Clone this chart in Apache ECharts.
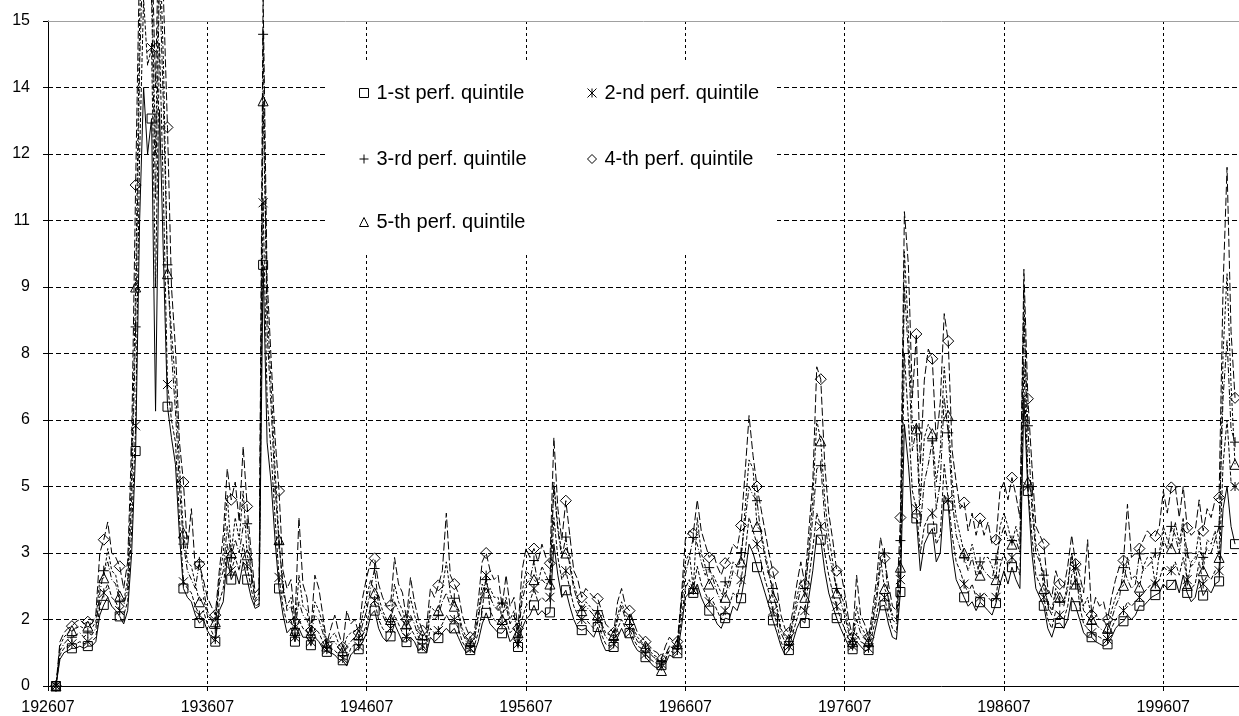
<!DOCTYPE html>
<html>
<head>
<meta charset="utf-8">
<script src="https://cdn.jsdelivr.net/npm/echarts@6/dist/echarts.min.js"></script>
<style>
html,body{margin:0;padding:0;background:#fff;}
#chart{width:1239px;height:716px;}
</style>
</head>
<body>
<div id="chart"></div>
<script>
// Tick labels
const xTickLabels = ['192607','193607','194607','195607','196607','197607','198607','199607'];
const yTickLabels = ['0','2','3','5','6','8','9','11','12','14','15'];
const seriesNames = ['1-st perf. quintile','2-nd perf. quintile','3-rd perf. quintile','4-th perf. quintile','5-th perf. quintile'];

// Sampling: quarterly values (Jan, Apr, Jul, Oct) from 1927-01 to 2001-01.
// Month index counted from 1926-07 (= 0).
const firstMonth = 6;
const monthStep = 3;

const q1 = [
0,0.6,0.75,0.8, 0.85,0.85,0.9,0.85, 0.9,0.9,1.0,1.6, 1.83,2.0,1.8,1.7, 1.57,1.4,1.7,3.0,
5.3,10.5,13.5,12.0, 12.8,6.2,13.0,9.6, 6.3,5.6,5.0,3.4, 2.2,2.0,1.9,1.6, 1.42,1.5,1.25,1.1,
1.0,1.7,1.9,2.9, 2.4,2.6,2.3,2.8, 2.4,2.0,1.75,1.8, 9.5,5.5,4.6,3.3, 2.2,1.6,1.2,1.3,
1.0,1.3,1.1,1.1, 0.92,1.1,1.0,0.85, 0.77,0.75,0.7,0.6, 0.58,0.45,0.7,0.8, 0.83,1.0,1.2,1.6,
1.7,1.3,1.1,1.0, 1.12,1.4,1.2,1.0, 0.99,1.1,1.0,0.8, 0.85,0.75,1.1,1.0, 1.08,1.2,1.3,1.2,
1.3,1.1,0.9,0.75, 0.81,0.75,1.0,1.4, 1.65,1.4,1.3,1.2, 1.19,1.3,1.0,1.1, 0.88,1.3,1.5,1.6,
1.82,1.6,1.7,1.6, 1.66,3.2,2.5,2.0, 2.16,1.8,1.5,1.3, 1.26,1.3,1.2,1.1, 1.33,1.0,0.8,0.8,
0.88,1.1,1.3,1.1, 1.19,0.95,0.8,0.75, 0.65,0.55,0.45,0.4, 0.47,0.5,0.7,0.65, 0.74,1.3,2.0,2.1,
2.1,2.3,2.0,1.8, 1.7,1.6,1.4,1.3, 1.53,1.5,1.8,1.7, 1.98,2.5,3.2,3.0, 2.68,2.4,2.1,1.8,
1.48,1.2,0.9,0.7, 0.81,1.0,1.3,1.5, 1.42,2.0,2.6,3.4, 3.3,2.6,2.1,1.8, 1.53,1.3,1.1,0.9,
0.83,1.0,0.9,0.8, 0.81,1.0,1.4,1.8, 1.82,1.4,1.1,1.05, 2.12,5.9,5.0,3.8, 3.78,2.6,3.2,3.4,
3.55,2.8,3.0,4.3, 4.07,3.0,2.4,2.2, 2.0,1.8,1.9,1.7, 1.89,1.8,1.7,1.6, 1.87,2.3,2.6,2.3,
2.68,2.4,2.2,6.5, 4.4,3.0,2.2,2.0, 1.81,1.3,1.1,1.4, 1.42,1.3,1.5,2.0, 1.8,1.5,1.2,1.1,
1.1,1.0,0.95,0.9, 0.94,1.1,1.3,1.4, 1.46,1.6,1.5,1.6, 1.81,1.8,1.9,2.0, 2.05,2.1,2.3,2.2,
2.28,2.4,2.1,2.5, 2.1,1.9,2.0,2.4, 2.04,2.2,2.1,2.3, 2.36,4.0,4.5,3.6, 3.2
];
const q2 = [
0,0.7,0.85,0.9, 0.95,0.95,1.0,0.95, 1.0,1.0,1.1,1.8, 2.1,2.3,2.0,1.9, 1.7,1.6,1.9,3.5,
5.87,12.0,15.5,14.0, 14.4,9.0,14.5,11.0, 6.8,6.0,5.5,3.8, 2.35,2.2,2.1,1.8, 1.6,1.7,1.4,1.25,
1.05,1.9,2.2,3.2, 2.6,2.9,2.6,3.2, 2.7,2.2,1.8,1.85, 10.9,6.5,5.3,3.8, 2.45,1.8,1.4,1.5,
1.1,1.5,1.3,1.25, 1.0,1.3,1.2,1.0, 0.82,0.85,0.8,0.7, 0.62,0.6,0.85,0.95, 0.9,1.15,1.4,1.8,
1.93,1.5,1.3,1.2, 1.3,1.6,1.4,1.2, 1.1,1.3,1.15,0.95, 0.9,0.85,1.3,1.2, 1.25,1.4,1.6,1.45,
1.5,1.3,1.0,0.85, 0.85,0.9,1.2,1.7, 2.5,1.7,1.5,1.4, 1.4,1.5,1.2,1.3, 0.95,1.5,1.8,1.9,
2.2,1.9,2.0,1.9, 2.0,3.8,2.9,2.4, 2.6,2.2,1.8,1.6, 1.5,1.5,1.4,1.3, 1.5,1.15,0.95,0.9,
0.95,1.3,1.5,1.3, 1.3,1.05,0.9,0.85, 0.72,0.62,0.55,0.5, 0.5,0.6,0.8,0.75, 0.8,1.5,2.2,2.4,
2.16,2.7,2.3,2.1, 1.9,1.9,1.7,1.5, 1.7,1.8,2.1,2.0, 2.4,3.0,3.8,3.5, 3.2,2.8,2.4,2.1,
1.7,1.4,1.0,0.8, 0.9,1.2,1.5,1.8, 1.7,2.4,3.1,3.9, 3.6,3.0,2.5,2.1, 1.8,1.5,1.3,1.05,
0.9,1.2,1.0,0.95, 0.85,1.2,1.6,2.1, 2.0,1.6,1.3,1.2, 2.4,7.5,6.0,4.4, 4.0,3.0,3.6,3.8,
3.9,3.2,3.4,5.0, 4.2,3.4,2.8,2.6, 2.3,2.1,2.3,2.0, 2.0,2.1,2.0,1.9, 2.0,2.7,3.0,2.7,
2.9,2.8,2.5,7.3, 4.5,3.4,2.5,2.3, 2.0,1.5,1.3,1.7, 1.6,1.5,1.8,2.5, 2.7,1.8,1.4,1.3,
1.2,1.15,1.1,1.05, 1.05,1.3,1.5,1.6, 1.7,1.9,1.8,1.9, 2.0,2.1,2.2,2.3, 2.3,2.4,2.7,2.6,
2.6,2.8,2.5,2.9, 2.4,2.2,2.3,2.8, 2.3,2.5,2.4,2.6, 2.6,5.0,6.0,4.6, 4.5
];
const q3 = [
0,0.8,0.95,1.05, 1.1,1.15,1.2,1.1, 1.2,1.15,1.3,2.1, 2.6,2.8,2.4,2.3, 1.9,1.8,2.2,4.2,
8.1,14.0,17.0,15.5, 15.5,11.0,16.0,13.0, 9.5,7.5,6.2,4.5, 3.2,2.6,2.4,2.2, 2.8,2.2,1.7,1.5,
1.3,2.3,2.6,3.6, 2.9,3.3,3.0,3.6, 3.66,2.6,1.9,2.0, 14.7,8.0,6.3,4.5, 3.2,2.3,1.7,1.8,
1.3,1.9,1.6,1.5, 1.15,1.6,1.5,1.2, 0.9,1.0,1.0,0.85, 0.75,0.9,1.0,1.1, 1.05,1.4,1.7,2.2,
2.65,1.8,1.6,1.4, 1.45,1.9,1.7,1.5, 1.3,1.6,1.4,1.1, 1.05,1.0,1.6,1.5, 1.6,1.9,2.1,1.8,
1.98,1.6,1.2,1.0, 0.95,1.05,1.5,2.1, 2.4,2.0,1.8,1.7, 1.87,1.8,1.4,1.6, 1.1,1.9,2.3,2.4,
2.83,2.3,2.4,2.3, 2.4,4.5,3.5,2.9, 3.36,2.7,2.2,1.9, 1.7,1.8,1.7,1.6, 1.7,1.35,1.1,1.05,
1.05,1.5,1.8,1.5, 1.5,1.2,1.0,0.95, 0.85,0.75,0.65,0.6, 0.55,0.7,0.9,0.85, 0.9,1.8,2.5,2.9,
3.35,3.2,2.8,2.5, 2.67,2.4,2.1,1.9, 2.35,2.2,2.6,2.5, 3.01,3.7,4.5,4.3, 4.18,3.4,2.9,2.5,
2.2,1.7,1.2,1.0, 1.0,1.4,1.8,2.2, 2.2,2.9,3.8,4.9, 4.97,3.8,3.0,2.6, 2.2,1.9,1.6,1.2,
1.0,1.5,1.2,1.1, 0.95,1.4,1.9,2.7, 3.0,1.9,1.5,1.4, 3.28,9.0,7.5,5.3, 5.82,3.6,4.6,5.0,
5.53,4.0,4.6,6.5, 5.71,4.2,3.4,3.1, 2.9,2.6,2.9,2.5, 2.8,2.6,2.5,2.4, 2.85,3.3,3.6,3.3,
3.28,3.3,3.0,8.3, 5.87,4.0,3.0,2.8, 2.5,1.8,1.6,2.1, 1.9,1.8,2.2,3.0, 2.3,2.1,1.7,1.6,
1.4,1.4,1.3,1.25, 1.2,1.5,1.8,2.0, 2.67,2.4,2.2,2.3, 2.98,2.6,2.7,2.8, 3.0,2.9,3.3,3.1,
3.6,3.4,3.0,3.6, 3.0,2.7,2.8,3.06, 2.9,3.1,3.0,3.3, 3.6,6.5,7.8,5.8, 5.5
];
const q4 = [
0,1.0,1.2,1.3, 1.35,1.45,1.5,1.4, 1.45,1.4,1.6,3.0, 3.3,3.7,3.0,2.9, 2.7,2.2,2.8,5.5,
11.3,16.5,19.0,17.0, 17.0,13.5,18.0,15.5, 12.6,9.0,7.6,5.5, 4.6,3.1,4.0,2.6, 2.75,2.4,2.0,1.8,
1.6,2.6,3.4,4.9, 4.2,4.6,3.7,5.4, 4.05,3.0,2.1,2.2, 15.6,9.2,7.4,5.6, 4.4,2.6,2.2,2.4,
1.45,3.8,2.3,2.0, 1.25,2.5,2.2,1.6, 0.95,1.3,1.6,1.2, 0.88,1.7,1.4,1.5, 1.2,2.0,2.45,2.8,
2.88,2.3,2.0,1.8, 1.82,2.9,2.3,2.1, 1.5,2.45,1.9,1.5, 1.25,1.3,2.2,2.0, 2.27,2.6,3.9,2.5,
2.3,2.1,1.6,1.3, 1.1,1.2,1.9,2.8, 3.0,2.6,2.4,2.5, 1.78,2.5,1.8,2.0, 1.3,2.6,3.1,2.9,
3.1,2.8,3.2,2.9, 2.77,5.6,4.0,3.3, 4.18,3.4,2.6,2.4, 2.0,2.2,2.1,2.0, 1.97,1.7,1.4,1.3,
1.2,1.9,2.2,1.8, 1.7,1.45,1.2,1.1, 1.0,0.9,0.8,0.75, 0.6,0.9,1.1,1.0, 1.0,2.0,3.3,3.5,
3.44,4.2,3.5,3.2, 2.9,3.0,2.7,2.5, 2.77,2.9,3.2,3.1, 3.62,4.8,6.1,5.2, 4.5,4.0,3.5,3.0,
2.57,2.2,1.6,1.3, 1.2,1.7,2.3,2.8, 2.3,3.5,4.6,7.2, 6.92,5.0,3.9,3.3, 2.6,2.6,2.1,1.5,
1.1,2.5,1.6,1.4, 1.1,1.7,2.4,3.35, 2.88,2.3,1.8,1.7, 3.8,10.7,9.5,6.5, 7.94,5.0,6.9,7.6,
7.38,5.5,6.4,8.4, 7.78,5.3,4.6,4.0, 4.14,3.5,3.9,3.4, 3.78,3.4,3.7,3.2, 3.3,4.4,4.6,4.2,
4.7,4.3,3.8,9.4, 6.48,5.0,3.6,3.4, 3.2,2.2,2.0,2.6, 2.3,2.2,2.7,3.4, 2.75,2.5,2.1,3.3,
1.6,2.0,1.8,1.9, 1.5,2.0,2.4,2.7, 2.83,4.1,2.9,3.0, 3.1,3.3,3.5,3.4, 3.38,3.6,4.4,3.9,
4.48,4.5,3.8,4.5, 3.57,3.4,3.5,4.2, 3.5,4.0,3.8,4.2, 4.25,9.0,11.7,8.0, 6.5
];
const q5 = [
0,0.9,1.1,1.2, 1.25,1.3,1.35,1.3, 1.35,1.3,1.45,2.4, 2.44,3.1,2.6,2.5, 2.03,1.9,2.4,4.8,
9.0,15.0,18.0,16.5, 16.0,12.0,17.0,14.0, 9.3,8.0,6.8,5.0, 3.45,2.8,2.7,2.3, 1.9,2.0,1.6,1.5,
1.45,2.4,3.0,4.3, 3.0,3.8,3.3,4.4, 2.96,2.6,1.95,2.1, 13.2,8.6,6.8,4.9, 3.3,2.1,1.8,2.0,
1.25,2.5,1.8,1.7, 1.2,1.9,1.7,1.4, 0.9,1.1,1.2,0.95, 0.8,1.1,1.2,1.25, 1.15,1.6,2.0,2.4,
2.1,2.0,1.7,1.5, 1.5,2.3,1.9,1.7, 1.4,2.0,1.6,1.3, 1.15,1.1,1.8,1.7, 1.7,2.2,2.8,2.1,
1.8,1.7,1.3,1.1, 1.0,1.1,1.6,2.3, 2.1,2.2,2.0,2.0, 1.5,2.0,1.5,1.7, 1.2,2.1,2.6,2.5,
2.4,2.3,2.7,2.5, 2.3,4.6,3.6,3.0, 3.0,2.8,2.3,2.0, 1.7,1.9,1.8,1.7, 1.6,1.4,1.2,1.15,
1.14,1.6,1.9,1.6, 1.5,1.3,1.1,1.0, 0.9,0.8,0.7,0.65, 0.35,0.6,0.9,0.85, 0.95,1.9,2.8,3.0,
2.2,3.8,3.0,2.7, 2.3,2.5,2.3,2.1, 2.0,2.4,2.8,2.7, 2.8,4.0,5.1,4.9, 3.6,3.5,3.0,2.6,
2.0,1.8,1.3,1.1, 1.05,1.5,2.0,2.4, 2.0,3.1,4.2,6.0, 5.53,4.2,3.4,2.8, 2.1,2.1,1.8,1.3,
1.0,1.8,1.35,1.2, 1.0,1.5,2.1,2.9, 2.2,2.0,1.6,1.5, 2.68,9.8,8.0,5.9, 5.8,4.2,5.6,5.9,
5.69,4.6,5.3,7.2, 6.1,4.6,3.8,3.4, 3.0,2.8,3.2,2.8, 2.5,2.9,2.9,2.7, 2.4,3.6,3.9,3.6,
3.2,3.6,3.2,9.0, 4.6,4.3,3.2,2.9, 2.2,1.9,1.7,2.2, 2.0,1.9,2.3,3.0, 2.3,2.2,1.8,2.0,
1.5,1.6,1.5,1.5, 1.3,1.7,2.0,2.2, 2.27,2.9,2.4,2.5, 2.23,2.7,2.9,2.9, 2.27,3.0,3.6,3.3,
3.1,3.7,3.2,3.8, 2.27,2.8,2.9,3.5, 2.6,3.3,3.2,3.5, 2.9,7.5,9.3,6.8, 5.0
];

const seriesValues = [q1, q2, q3, q4, q5];

const SYM_SQUARE = 'rect';
const SYM_STAR = 'path://M0,0L10,10M10,0L0,10M5,0L5,10';
const SYM_PLUS = 'path://M0,5L10,5M5,0L5,10';
const SYM_DIAMOND = 'diamond';
const SYM_TRIANGLE = 'triangle';
const symbols = [SYM_SQUARE, SYM_STAR, SYM_PLUS, SYM_DIAMOND, SYM_TRIANGLE];
const symbolSizes = [9, 9, 10, 11, 10];
const dashTypes = ['solid', [4, 2], [6, 2, 1, 2], [8, 3], [3, 2]];

const FONT = '"Liberation Sans", Arial, sans-serif';
const markerEvery = 4; // one marker per January (every 4th quarterly sample)

function toPairs(arr) {
  return arr.map((v, i) => [firstMonth + i * monthStep, v]);
}

const series = seriesValues.map((vals, s) => ({
  name: seriesNames[s],
  type: 'line',
  data: toPairs(vals),
  clip: false,
  symbol: symbols[s],
  symbolSize: (val, params) => (params.dataIndex % markerEvery === 0 ? symbolSizes[s] : 0),
  showSymbol: true,
  itemStyle: { color: 'rgba(0,0,0,0)', borderColor: '#000', borderWidth: 1 },
  lineStyle: { color: '#000', width: 1, type: dashTypes[s] },
  emphasis: { disabled: true },
  animation: false,
  z: 2 + s * 0.01
}));

const legendPos = [
  { left: 359, top: 83 },
  { left: 587, top: 83 },
  { left: 359, top: 149 },
  { left: 587, top: 149 },
  { left: 359, top: 212 }
];
const legends = seriesNames.map((n, s) => ({
  data: [{ name: n, icon: symbols[s] }],
  left: legendPos[s].left,
  top: legendPos[s].top,
  orient: 'horizontal',
  padding: 0,
  itemWidth: 9,
  itemHeight: 9,
  selectedMode: false,
  itemStyle: { color: 'rgba(0,0,0,0)', borderColor: '#000', borderWidth: 1 },
  textStyle: { fontSize: 20, color: '#000', fontFamily: FONT, padding: [0, 0, 0, 3] },
  z: 10
}));

const chart = echarts.init(document.getElementById('chart'), null, { renderer: 'canvas' });
chart.setOption({
  animation: false,
  backgroundColor: '#fff',
  grid: { left: 48, right: 0, top: 21, bottom: 30, containLabel: false },
  xAxis: [{
    type: 'value',
    min: 0,
    max: 897,
    interval: 120,
    axisLine: { show: true, lineStyle: { color: '#000', width: 1 } },
    axisTick: { show: true, inside: false, length: 5, lineStyle: { color: '#000' } },
    axisLabel: {
      show: true, margin: 14, fontSize: 16, color: '#000', fontFamily: FONT,
      showMaxLabel: false,
      formatter: (v, i) => xTickLabels[i] || ''
    },
    splitLine: { show: true, lineStyle: { color: '#000', width: 1, type: [3, 3] } }
  }, {
    type: 'value',
    position: 'top',
    min: 0,
    max: 897,
    axisLine: { show: true, onZero: false, lineStyle: { color: '#a0a0a0', width: 1 } },
    axisTick: { show: false },
    axisLabel: { show: false },
    splitLine: { show: false }
  }],
  yAxis: {
    type: 'value',
    min: 0,
    max: 15,
    interval: 1.5,
    axisLine: { show: true, onZero: false, lineStyle: { color: '#000', width: 1 } },
    axisTick: { show: true, inside: false, length: 5, lineStyle: { color: '#000' } },
    axisLabel: {
      margin: 18, fontSize: 16, color: '#000', fontFamily: FONT,
      formatter: (v, i) => yTickLabels[i] !== undefined ? yTickLabels[i] : String(Math.round(v))
    },
    splitLine: { show: true, showMaxLine: false, lineStyle: { color: '#000', width: 1, type: [5, 3] } }
  },
  legend: legends,
  graphic: [{
    type: 'rect', left: 328, top: 62, silent: true, z: 5,
    shape: { width: 449, height: 193 },
    style: { fill: '#fff' }
  }],
  series: series
});
</script>
</body>
</html>
